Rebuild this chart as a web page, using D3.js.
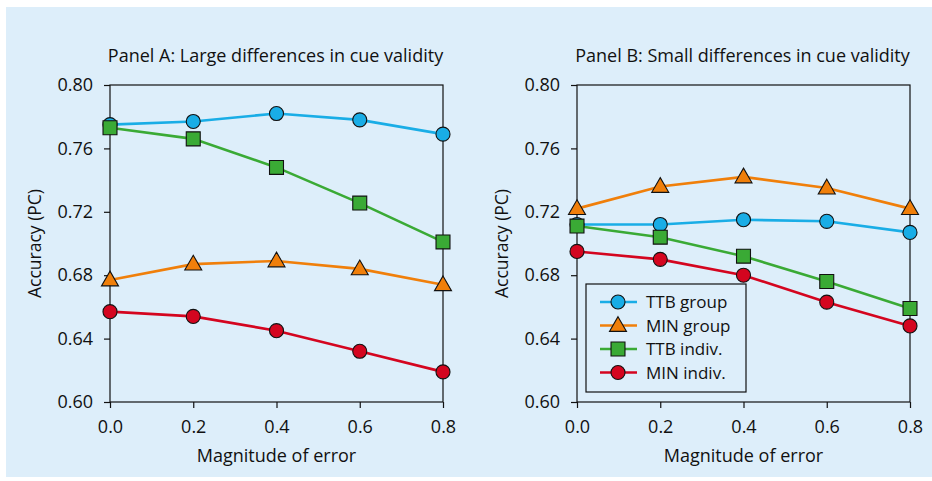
<!DOCTYPE html>
<html>
<head>
<meta charset="utf-8">
<script src="https://cdn.jsdelivr.net/npm/d3@7"></script>
<style>
  body { margin: 0; background: #fff; }
  svg { display: block; }
  text { font-family: 'Open Sans', 'Noto Sans', sans-serif; fill: #111; }
</style>
</head>
<body>
<div id="chart"></div>
<script>
const xValues = [0.0, 0.2, 0.4, 0.6, 0.8];
const yTicks = [0.60, 0.64, 0.68, 0.72, 0.76, 0.80];
const seriesNames = ['TTB group', 'MIN group', 'TTB indiv.', 'MIN indiv.'];

// panel A: large differences in cue validity
const aTtbGroup = [0.775, 0.777, 0.782, 0.778, 0.769];
const aMinGroup = [0.677, 0.687, 0.689, 0.684, 0.674];
const aTtbIndiv = [0.773, 0.766, 0.748, 0.7255, 0.701];
const aMinIndiv = [0.657, 0.654, 0.645, 0.632, 0.619];

// panel B: small differences in cue validity
const bTtbGroup = [0.712, 0.712, 0.715, 0.714, 0.707];
const bMinGroup = [0.722, 0.736, 0.742, 0.735, 0.722];
const bTtbIndiv = [0.711, 0.704, 0.692, 0.676, 0.659];
const bMinIndiv = [0.695, 0.690, 0.680, 0.663, 0.648];

const colors = ['#19ade6', '#f07f0a', '#3aaa35', '#d4051f'];
const symbols = [d3.symbolCircle, d3.symbolTriangle, d3.symbolSquare, d3.symbolCircle];
const symSize = [155, 125, 195, 155];

const width = 932, height = 481;
const svg = d3.select('#chart').append('svg')
  .attr('width', width)
  .attr('height', height);

svg.append('rect')
  .attr('x', 6).attr('y', 7)
  .attr('width', width - 6).attr('height', 470)
  .attr('fill', '#ddeefa');

function drawPanel(left, title, data, withLegend) {
  const top = 85, bottom = 402, right = left + 333;
  const x = d3.scaleLinear().domain([0, 0.8]).range([left, right]);
  const y = d3.scaleLinear().domain([0.60, 0.80]).range([bottom, top]);

  const g = svg.append('g');

  g.append('text')
    .attr('x', (left + right) / 2 - 1)
    .attr('y', 62)
    .attr('text-anchor', 'middle')
    .attr('font-size', 18)
    .text(title);

  // frame
  g.append('rect')
    .attr('x', left).attr('y', top)
    .attr('width', right - left).attr('height', bottom - top)
    .attr('fill', 'none')
    .attr('stroke', '#111')
    .attr('stroke-width', 1.2);

  const yAxis = g.append('g')
    .attr('transform', `translate(${left},0)`)
    .call(d3.axisLeft(y).tickValues(yTicks).tickFormat(d3.format('.2f')).tickSize(6).tickPadding(11));
  yAxis.select('.domain').remove();
  yAxis.selectAll('text').attr('font-size', 18).style('font-family', "'Open Sans', sans-serif");
  yAxis.selectAll('line').attr('stroke', '#111').attr('stroke-width', 1.2);

  const xAxis = g.append('g')
    .attr('transform', `translate(0,${bottom})`)
    .call(d3.axisBottom(x).tickValues(xValues).tickFormat(d3.format('.1f')).tickSize(6).tickPadding(12));
  xAxis.select('.domain').remove();
  xAxis.selectAll('text').attr('font-size', 18).style('font-family', "'Open Sans', sans-serif");
  xAxis.selectAll('line').attr('stroke', '#111').attr('stroke-width', 1.2);

  g.append('text')
    .attr('x', (left + right) / 2)
    .attr('y', 462)
    .attr('text-anchor', 'middle')
    .attr('font-size', 18)
    .text('Magnitude of error');

  g.append('text')
    .attr('transform', `translate(${left - 69},${(top + bottom) / 2}) rotate(-90)`)
    .attr('text-anchor', 'middle')
    .attr('font-size', 17.5)
    .text('Accuracy (PC)');

  const line = d3.line()
    .x((d, i) => x(xValues[i]))
    .y(d => y(d));

  // draw order: MIN indiv, TTB indiv, MIN group, TTB group
  [3, 2, 1, 0].forEach(k => {
    g.append('path')
      .datum(data[k])
      .attr('d', line)
      .attr('fill', 'none')
      .attr('stroke', colors[k])
      .attr('stroke-width', 2.6);
  });
  [3, 1, 0, 2].forEach(k => {
    g.selectAll(null)
      .data(data[k])
      .enter()
      .append('path')
      .attr('d', d3.symbol().type(symbols[k]).size(symSize[k]))
      .attr('transform', (d, i) => `translate(${x(xValues[i])},${y(d) + (k === 1 ? 1 : 0)})`)
      .attr('fill', colors[k])
      .attr('stroke', '#111')
      .attr('stroke-width', 1.1);
  });

  if (withLegend) {
    const lg = g.append('g');
    lg.append('rect')
      .attr('x', left + 9).attr('y', 284)
      .attr('width', 160).attr('height', 108)
      .attr('fill', 'none')
      .attr('stroke', '#111')
      .attr('stroke-width', 1.2);
    seriesNames.forEach((name, k) => {
      const ly = 302 + k * 23.5;
      lg.append('line')
        .attr('x1', left + 23).attr('x2', left + 60)
        .attr('y1', ly).attr('y2', ly)
        .attr('stroke', colors[k])
        .attr('stroke-width', 2.6);
      lg.append('path')
        .attr('d', d3.symbol().type(symbols[k]).size(symSize[k]))
        .attr('transform', `translate(${left + 41},${ly + (k === 1 ? 1 : 0)})`)
        .attr('fill', colors[k])
        .attr('stroke', '#111')
        .attr('stroke-width', 1.1);
      lg.append('text')
        .attr('x', left + 69)
        .attr('y', ly + 6)
        .attr('font-size', 17)
        .text(name);
    });
  }
}

drawPanel(110, 'Panel A: Large differences in cue validity',
  [aTtbGroup, aMinGroup, aTtbIndiv, aMinIndiv], false);
drawPanel(577, 'Panel B: Small differences in cue validity',
  [bTtbGroup, bMinGroup, bTtbIndiv, bMinIndiv], true);
</script>
</body>
</html>
